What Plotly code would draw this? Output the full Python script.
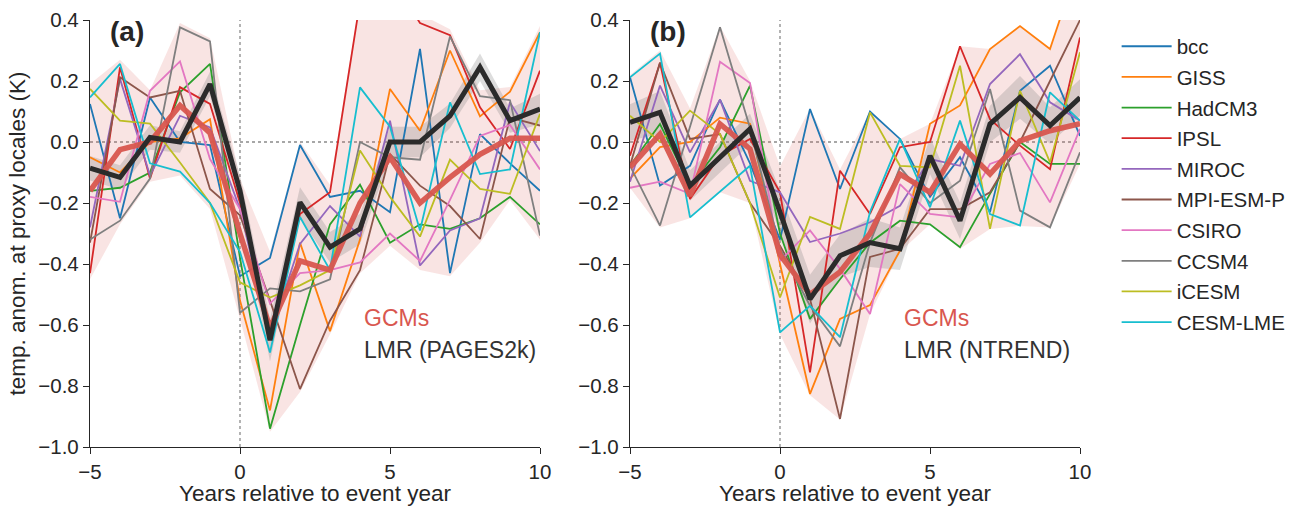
import plotly.graph_objects as go

years = list(range(-5, 11))
model_names = ["bcc", "GISS", "HadCM3", "IPSL", "MIROC", "MPI-ESM-P", "CSIRO", "CCSM4", "iCESM", "CESM-LME"]
model_colors = ["#1f77b4", "#ff7f0e", "#2ca02c", "#d62728", "#9467bd",
                "#8c564b", "#e377c2", "#7f7f7f", "#bcbd22", "#17becf"]

# ---- panel (a): LMR (PAGES2k) ----
bcc_a    = [0.125, -0.25, 0.146, 0.0, -0.01, -0.44, -0.38, -0.01, -0.18, -0.16, -0.23, 0.305, -0.43, 0.026, -0.07, -0.16]
giss_a   = [-0.05, -0.10, 0.0, 0.012, 0.075, -0.52, -0.88, -0.33, -0.62, -0.32, 0.174, 0.037, 0.30, 0.084, 0.165, 0.36]
hadcm3_a = [-0.16, -0.15, -0.10, 0.163, 0.256, -0.38, -0.94, -0.60, -0.27, -0.14, -0.33, -0.27, -0.285, -0.25, -0.18, -0.27]
ipsl_a   = [-0.43, 0.245, -0.12, 0.18, 0.125, -0.20, -0.62, -0.236, -0.165, 0.46, 0.55, 0.39, 0.35, 0.114, -0.023, 0.234]
miroc_a  = [-0.28, 0.207, -0.11, 0.086, 0.048, -0.22, -0.635, -0.334, -0.21, -0.31, 0.07, -0.405, -0.29, -0.25, 0.13, -0.03]
mpi_a    = [-0.33, 0.212, 0.146, 0.168, -0.154, -0.24, -0.52, -0.81, -0.586, -0.42, -0.04, -0.143, -0.21, -0.318, 0.08, 0.054]
csiro_a  = [-0.18, -0.196, 0.168, 0.264, -0.056, -0.22, -0.53, -0.43, -0.42, -0.395, -0.30, -0.39, -0.19, 0.02, 0.056, -0.09]
ccsm4_a  = [-0.32, -0.258, -0.12, 0.376, 0.33, -0.56, -0.48, -0.49, -0.45, 0.0, -0.05, -0.058, 0.346, 0.15, 0.137, -0.307]
icesm_a  = [0.174, 0.07, 0.06, -0.067, -0.20, -0.46, -0.51, -0.47, -0.42, -0.028, -0.18, -0.31, -0.058, -0.154, -0.17, 0.092]
cesm_a   = [0.146, 0.256, -0.07, -0.097, -0.20, -0.36, -0.69, -0.246, -0.42, 0.179, 0.05, -0.29, 0.13, -0.105, -0.09, 0.36]
gcm_mean_a = [-0.16, -0.025, 0.0, 0.12, 0.03, -0.30, -0.61, -0.39, -0.42, -0.20, -0.05, -0.20, -0.116, -0.04, 0.012, 0.012]
gcm_hi_a   = [0.19, 0.27, 0.17, 0.39, 0.34, -0.12, -0.36, 0.0, -0.14, 0.47, 0.56, 0.42, 0.37, 0.17, 0.18, 0.38]
gcm_lo_a   = [-0.45, -0.27, -0.13, -0.11, -0.22, -0.58, -0.95, -0.82, -0.63, -0.43, -0.34, -0.42, -0.44, -0.33, -0.19, -0.32]
lmr_a      = [-0.086, -0.116, 0.015, 0.0, 0.19, -0.16, -0.65, -0.198, -0.345, -0.285, 0.0, 0.0, 0.086, 0.245, 0.07, 0.108]
lmr_err_a  = [0.04, 0.04, 0.04, 0.035, 0.04, 0.05, 0.07, 0.05, 0.05, 0.05, 0.05, 0.05, 0.04, 0.045, 0.04, 0.05]

# ---- panel (b): LMR (NTREND) ----
bcc_b    = [0.212, -0.143, -0.078, 0.139, -0.07, -0.32, 0.108, -0.154, 0.10, 0.01, -0.18, -0.05, -0.23, 0.168, 0.25, 0.02]
giss_b   = [-0.12, -0.017, 0.0, 0.08, 0.06, -0.40, -0.826, -0.58, -0.535, -0.356, 0.06, 0.12, 0.305, 0.38, 0.305, 0.60]
hadcm3_b = [-0.078, 0.059, -0.143, -0.017, 0.185, -0.30, -0.58, -0.45, -0.33, -0.258, -0.27, -0.345, -0.17, 0.0, -0.072, -0.072]
ipsl_b   = [-0.045, 0.26, -0.187, -0.045, 0.01, -0.165, -0.755, -0.094, -0.236, -0.017, 0.0, 0.314, 0.075, -0.012, -0.089, 0.343]
miroc_b  = [-0.13, 0.185, -0.034, 0.139, -0.127, -0.165, -0.328, -0.30, -0.263, -0.209, -0.056, -0.078, 0.19, 0.288, 0.13, 0.07]
mpi_b    = [-0.078, 0.26, 0.01, 0.026, -0.20, -0.34, -0.515, -0.908, -0.377, -0.35, -0.22, -0.22, -0.165, 0.0, 0.20, 0.40]
csiro_b  = [-0.15, -0.13, -0.17, 0.263, 0.193, -0.39, -0.29, -0.416, -0.564, -0.138, -0.236, -0.247, -0.072, -0.036, -0.198, 0.043]
ccsm4_b  = [-0.078, -0.274, 0.05, 0.376, 0.046, -0.35, -0.537, -0.67, -0.33, -0.083, -0.20, -0.127, 0.174, -0.225, -0.28, -0.034]
icesm_b  = [0.086, 0.0, 0.103, 0.026, -0.20, -0.51, -0.246, -0.285, 0.097, -0.078, -0.083, 0.25, -0.285, 0.168, -0.067, 0.294]
cesm_b   = [0.212, 0.29, -0.247, -0.163, -0.078, -0.624, -0.537, -0.64, -0.23, 0.01, -0.214, 0.07, -0.236, -0.274, 0.163, 0.07]
gcm_mean_b = [-0.083, 0.026, -0.176, 0.059, -0.023, -0.37, -0.50, -0.426, -0.30, -0.105, -0.165, -0.007, -0.105, 0.004, 0.037, 0.06]
gcm_hi_b   = [0.22, 0.30, 0.11, 0.38, 0.20, -0.08, 0.11, -0.09, 0.10, 0.01, 0.06, 0.314, 0.305, 0.38, 0.305, 0.60]
gcm_lo_b   = [-0.15, -0.28, -0.25, -0.165, -0.20, -0.63, -0.83, -0.91, -0.565, -0.36, -0.27, -0.35, -0.285, -0.275, -0.28, -0.072]
lmr_b      = [0.064, 0.097, -0.143, -0.05, 0.043, -0.23, -0.515, -0.373, -0.33, -0.35, -0.045, -0.258, 0.059, 0.146, 0.054, 0.146]
lmr_err_b  = [0.06, 0.07, 0.05, 0.05, 0.05, 0.07, 0.08, 0.07, 0.08, 0.07, 0.06, 0.06, 0.06, 0.07, 0.06, 0.06]

panel_a_models = [bcc_a, giss_a, hadcm3_a, ipsl_a, miroc_a, mpi_a, csiro_a, ccsm4_a, icesm_a, cesm_a]
panel_b_models = [bcc_b, giss_b, hadcm3_b, ipsl_b, miroc_b, mpi_b, csiro_b, ccsm4_b, icesm_b, cesm_b]

y_ticks = [-1.0, -0.8, -0.6, -0.4, -0.2, 0.0, 0.2, 0.4]
y_tick_text = ["\u22121.0", "\u22120.8", "\u22120.6", "\u22120.4", "\u22120.2", "0.0", "0.2", "0.4"]
x_ticks = [-5, 0, 5, 10]
x_tick_text = ["\u22125", "0", "5", "10"]

FONT = "Liberation Sans, Arial, sans-serif"
TXT = "#262626"
GCM_RED = "#d9574f"

fig = go.Figure()

panels = [
    ("x", "y", panel_a_models, gcm_mean_a, gcm_hi_a, gcm_lo_a, lmr_a, lmr_err_a, True),
    ("x2", "y2", panel_b_models, gcm_mean_b, gcm_hi_b, gcm_lo_b, lmr_b, lmr_err_b, False),
]

for xa, ya, mods, gmean, ghi, glo, lmr, lerr, show in panels:
    # GCM spread band
    fig.add_trace(go.Scatter(x=years, y=glo, mode="lines", line=dict(width=0),
                             xaxis=xa, yaxis=ya, showlegend=False, hoverinfo="skip"))
    fig.add_trace(go.Scatter(x=years, y=ghi, mode="lines", line=dict(width=0),
                             fill="tonexty", fillcolor="rgba(218,90,80,0.16)",
                             xaxis=xa, yaxis=ya, showlegend=False, hoverinfo="skip"))
    # LMR uncertainty band
    lmr_lo = [m - e for m, e in zip(lmr, lerr)]
    lmr_hi = [m + e for m, e in zip(lmr, lerr)]
    fig.add_trace(go.Scatter(x=years, y=lmr_lo, mode="lines", line=dict(width=0),
                             xaxis=xa, yaxis=ya, showlegend=False, hoverinfo="skip"))
    fig.add_trace(go.Scatter(x=years, y=lmr_hi, mode="lines", line=dict(width=0),
                             fill="tonexty", fillcolor="rgba(120,120,120,0.25)",
                             xaxis=xa, yaxis=ya, showlegend=False, hoverinfo="skip"))
    # individual models
    for name, col, vals in zip(model_names, model_colors, mods):
        fig.add_trace(go.Scatter(x=years, y=vals, mode="lines", name=name,
                                 line=dict(color=col, width=1.8),
                                 xaxis=xa, yaxis=ya, showlegend=show, legendgroup=name))
    # GCM mean
    fig.add_trace(go.Scatter(x=years, y=gmean, mode="lines", line=dict(color=GCM_RED, width=5.5),
                             opacity=0.95, xaxis=xa, yaxis=ya, showlegend=False))
    # LMR mean
    fig.add_trace(go.Scatter(x=years, y=lmr, mode="lines", line=dict(color="#2b2b2b", width=5),
                             xaxis=xa, yaxis=ya, showlegend=False))

axis_common = dict(showgrid=False, zeroline=False, showline=True, linecolor=TXT, linewidth=1.3,
                   ticks="outside", ticklen=6, tickwidth=1.3, tickcolor=TXT,
                   tickfont=dict(family=FONT, size=20.5, color=TXT))

xcommon = dict(axis_common, range=[-5, 10], tickvals=x_ticks, ticktext=x_tick_text,
               title=dict(text="Years relative to event year", font=dict(family=FONT, size=22.5, color=TXT),
                          standoff=1))
ycommon = dict(axis_common, range=[-1.0, 0.4], tickvals=y_ticks, ticktext=y_tick_text)

fig.update_layout(
    width=1311, height=506,
    margin=dict(l=90, r=231, t=20, b=59, autoexpand=False),
    paper_bgcolor="white", plot_bgcolor="white",
    font=dict(family=FONT, color=TXT),
    xaxis=dict(xcommon, domain=[0, 450 / 990], anchor="y"),
    xaxis2=dict(xcommon, domain=[540 / 990, 1], anchor="y2"),
    yaxis=dict(ycommon, domain=[0, 1], anchor="x",
               title=dict(text="temp. anom. at proxy locales (K)",
                          font=dict(family=FONT, size=22.5, color=TXT), standoff=6)),
    yaxis2=dict(ycommon, domain=[0, 1], anchor="x2"),
    legend=dict(x=1.037, y=0.985, xanchor="left", yanchor="top",
                font=dict(family=FONT, size=20.5, color=TXT), itemwidth=50,
                bgcolor="rgba(0,0,0,0)", borderwidth=0, tracegroupgap=1),
    showlegend=True,
)

# dotted reference lines
for xa, ya in [("x", "y"), ("x2", "y2")]:
    fig.add_shape(type="line", xref=xa, yref=ya + " domain", x0=0, x1=0, y0=0, y1=1,
                  line=dict(color="#8a8a8a", width=1.3, dash="dot"), layer="below")
    fig.add_shape(type="line", xref=xa + " domain", yref=ya, x0=0, x1=1, y0=0, y1=0,
                  line=dict(color="#8a8a8a", width=1.3, dash="dot"), layer="below")

# panel annotations
for xa, ya, lab, lmrname in [("x", "y", "(a)", "LMR (PAGES2k)"), ("x2", "y2", "(b)", "LMR (NTREND)")]:
    fig.add_annotation(x=0.04, y=0.972, xref=xa + " domain", yref=ya + " domain", text="<b>" + lab + "</b>",
                       showarrow=False, xanchor="left", yanchor="middle",
                       font=dict(family=FONT, size=28, color=TXT))
    fig.add_annotation(x=0.604, y=0.302, xref=xa + " domain", yref=ya + " domain", text="GCMs",
                       showarrow=False, xanchor="left", yanchor="middle",
                       font=dict(family=FONT, size=23, color=GCM_RED))
    fig.add_annotation(x=0.604, y=0.227, xref=xa + " domain", yref=ya + " domain", text=lmrname,
                       showarrow=False, xanchor="left", yanchor="middle",
                       font=dict(family=FONT, size=23, color="#333333"))

fig.write_html("out.html")
